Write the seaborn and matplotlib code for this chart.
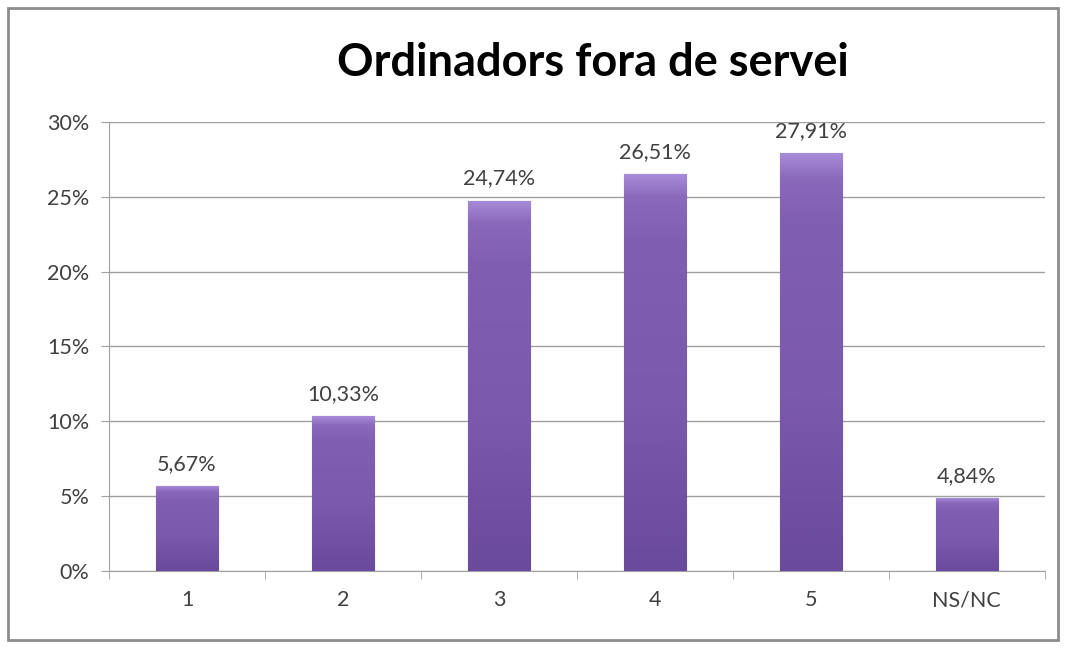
import numpy as np
import pandas as pd
import matplotlib
matplotlib.use('Agg')
import matplotlib.pyplot as plt
import seaborn as sns
from matplotlib.patches import Rectangle
from matplotlib.colors import LinearSegmentedColormap

# data
categories = ['1', '2', '3', '4', '5', 'NS/NC']
values = [5.67, 10.33, 24.74, 26.51, 27.91, 4.84]
labels = ['5,67%', '10,33%', '24,74%', '26,51%', '27,91%', '4,84%']
yticks = [0, 5, 10, 15, 20, 25, 30]

df = pd.DataFrame({'cat': categories, 'val': values})

sns.set_style('white')
plt.rcParams['font.family'] = ['Lato', 'DejaVu Sans']

fig = plt.figure(figsize=(10.66, 6.48), dpi=100)
ax = fig.add_axes([0.1023, 0.119, 0.8777, 0.693])

sns.barplot(x='cat', y='val', data=df, color='#7E5BAF', width=0.4,
            edgecolor='#563C80', linewidth=0.8, ax=ax, zorder=3)

# soft vertical shading on the bars (lighter top edge)
cmap = LinearSegmentedColormap.from_list('bar', ['#6A4A9C', '#7B59AD', '#805EB2', '#A78AD8'])
for p in ax.patches:
    x0, y0 = p.get_x(), p.get_y()
    w, h = p.get_width(), p.get_height()
    g = np.concatenate([np.linspace(0, 0.75, 240), np.linspace(0.75, 1, 16)]).reshape(-1, 1)
    im = ax.imshow(g, cmap=cmap, extent=[x0, x0 + w, y0, y0 + h], origin='lower',
                   aspect='auto', zorder=3.5, vmin=0, vmax=1)
    im.set_clip_path(p)

for i, (v, lab) in enumerate(zip(values, labels)):
    ax.text(i, v + 0.8, lab, ha='center', va='bottom', fontsize=15.5, color='#404040')

ax.set_xlim(-0.5, len(categories) - 0.5)
ax.set_ylim(0, 30)
ax.set_yticks(yticks)
ax.set_yticklabels([f'{t}%' for t in yticks], fontsize=15.5, color='#404040')
ax.set_xticks(range(len(categories)))
ax.set_xticklabels(categories, fontsize=15.5, color='#404040')
ax.set_xlabel('')
ax.set_ylabel('')
ax.yaxis.grid(True, color='#A0A0A0', linewidth=1, zorder=0)
ax.set_axisbelow(True)

for s in ['top', 'right']:
    ax.spines[s].set_visible(False)
ax.spines['left'].set_color('#A0A0A0')
ax.spines['bottom'].set_color('#A0A0A0')

# y ticks out to the left, x ticks at category boundaries
ax.tick_params(axis='y', which='major', length=6, color='#A0A0A0', direction='out', pad=8, left=True)
ax.tick_params(axis='x', which='major', length=0, pad=14)
ax.set_xticks(np.arange(-0.5, len(categories), 1), minor=True)
ax.tick_params(axis='x', which='minor', length=6, color='#A0A0A0', direction='out', bottom=True)

fig.text(0.556, 0.903, 'Ordinadors fora de servei', ha='center', va='center',
         fontsize=32.5, fontweight='bold', color='#000000')

fig.patches.append(Rectangle((0.0075, 0.012), 0.985, 0.976, transform=fig.transFigure,
                             fill=False, edgecolor='#8C8C8C', linewidth=2))

plt.savefig('out.png', dpi=100)
